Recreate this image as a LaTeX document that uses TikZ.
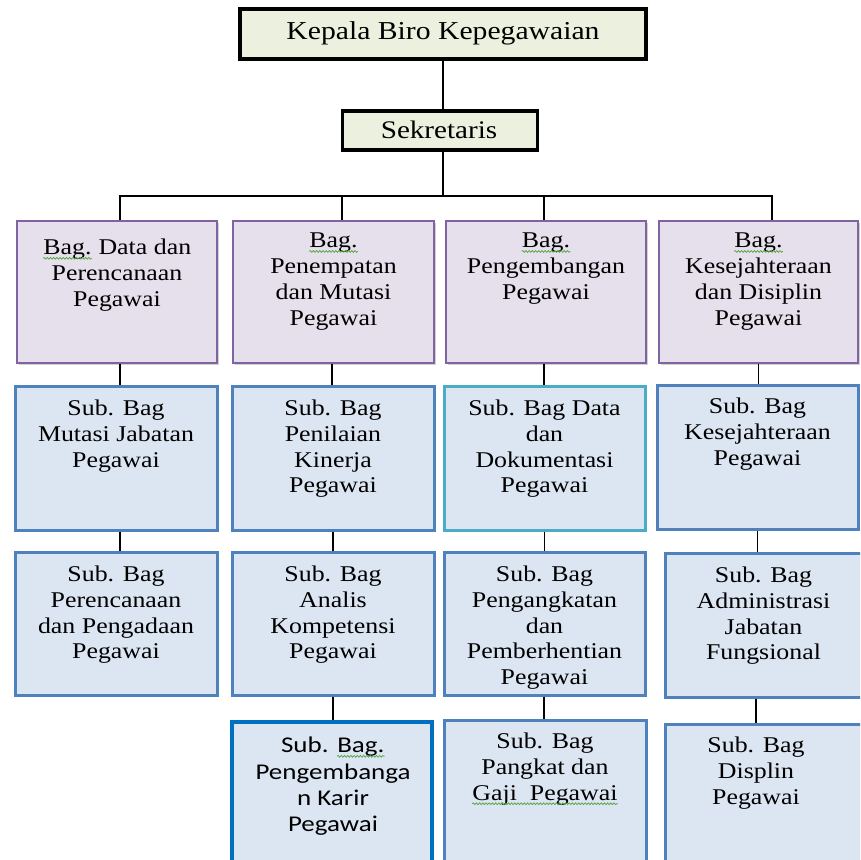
\documentclass[tikz,border=0pt]{standalone}
\usepackage{fontspec}
\setmainfont{Liberation Serif}[FakeStretch=1.15]
\newfontfamily\calib{Carlito}[FakeStretch=1.2]
\usetikzlibrary{shadows,decorations.pathmorphing}
\definecolor{topfill}{HTML}{EBF1DE}
\definecolor{bagfill}{HTML}{E5E0EC}
\definecolor{bagline}{HTML}{8064A2}
\definecolor{subfill}{HTML}{DCE6F2}
\definecolor{subline}{HTML}{4F81BD}
\definecolor{tealline}{HTML}{4BACC6}
\definecolor{darkblue}{HTML}{0070C0}
\definecolor{sqgreen}{HTML}{4FA33A}
\newcommand\squig[1]{\tikz[baseline=(w.base)]{\node[inner sep=0pt, anchor=base] (w) at (0,0) {#1};
  \draw[sqgreen, line width=0.7pt, decorate, decoration={snake, amplitude=0.9pt, segment length=3.2pt}]
    ([yshift=-3.5pt]w.base west) -- ([yshift=-3.5pt]w.base east);}}
\begin{document}
\begin{tikzpicture}[x=1pt,y=-1pt,
  topbox/.style={draw=black, line width=3.2pt, fill=topfill, inner sep=0pt},
  bagbox/.style={draw=bagline, line width=2pt, fill=bagfill, inner sep=0pt,
    drop shadow={opacity=0.35, shadow xshift=1.5pt, shadow yshift=-2pt}},
  subbox/.style={draw=subline, line width=3pt, fill=subfill, inner sep=0pt,
    drop shadow={opacity=0.25, shadow xshift=1pt, shadow yshift=-1.5pt}},
  txt/.style={align=center, anchor=north, inner sep=0pt, font=\fontsize{22.5}{25.7}\selectfont},
  conn/.style={draw=black, line width=1.5pt}]
\useasboundingbox (0,0) rectangle (860,860);
\clip (0,0) rectangle (860,860);
\fill[white] (0,0) rectangle (860,860);

\coordinate (bus) at (440,196);

% top boxes
\node[topbox, minimum width=406pt, minimum height=50pt] (K) at (443,34) {};
\node[font=\fontsize{25.8}{28}\selectfont, inner sep=0pt] (tK) at (443,33) {Kepala Biro Kepegawaian};
\node[topbox, minimum width=195pt, minimum height=39pt] (S) at (440,130.5) {};
\node[font=\fontsize{25.3}{27}\selectfont, inner sep=0pt] (tS) at (439,130) {Sekretaris};

% bag row
\node[bagbox, minimum width=200pt, minimum height=142pt] (B1) at (117,292) {};
\node[bagbox, minimum width=201pt, minimum height=142pt] (B2) at (333.5,292) {};
\node[bagbox, minimum width=200pt, minimum height=142pt] (B3) at (546,292) {};
\node[bagbox, minimum width=199pt, minimum height=142pt] (B4) at (758.5,292) {};

% sub row 1
\node[subbox, minimum width=202pt, minimum height=144pt] (A1) at (116,458) {};
\node[subbox, minimum width=202pt, minimum height=144pt] (A2) at (333,458) {};
\node[subbox, draw=tealline, minimum width=201pt, minimum height=144pt] (A3) at (544.5,458) {};
\node[subbox, minimum width=201pt, minimum height=144pt] (A4) at (757.5,457) {};

% sub row 2
\node[subbox, minimum width=202pt, minimum height=143pt] (C1) at (116,623.5) {};
\node[subbox, minimum width=202pt, minimum height=143pt] (C2) at (333,623.5) {};
\node[subbox, minimum width=201pt, minimum height=143pt] (C3) at (544.5,623.5) {};
\node[subbox, minimum width=197pt, minimum height=144pt] (C4) at (763.5,625) {};

% sub row 3
\node[subbox, draw=darkblue, line width=3.4pt, minimum width=200pt, minimum height=160pt] (D2) at (332,802) {};
\node[subbox, minimum width=202pt, minimum height=160pt] (D3) at (545,800) {};
\node[subbox, minimum width=197pt, minimum height=160pt] (D4) at (763.5,804) {};

% connectors
\draw[conn] (K.south) -- (K.south |- S.north);
\draw[conn] (S.south -| K.south) -- (K.south |- bus);
\draw[conn] ([xshift=3pt]B1.north) |- (K.south |- bus);
\draw[conn] ([xshift=8.5pt]B2.north) |- (K.south |- bus);
\draw[conn] ([xshift=-2pt]B3.north) |- (K.south |- bus);
\draw[conn] ([xshift=13.5pt]B4.north) |- (K.south |- bus);
\draw[conn] ([xshift=3pt]B1.south) -- ([xshift=3pt]B1.south |- A1.north);
\draw[conn] ([xshift=-1.5pt]B2.south) -- ([xshift=-1.5pt]B2.south |- A2.north);
\draw[conn] ([xshift=-2pt]B3.south) -- ([xshift=-2pt]B3.south |- A3.north);
\draw[conn] (B4.south) -- (B4.south |- A4.north);
\draw[conn] ([xshift=4pt]A1.south) -- ([xshift=4pt]A1.south |- C1.north);
\draw[conn] (A2.south) -- (A2.south |- C2.north);
\draw[conn] (A3.south) -- (A3.south |- C3.north);
\draw[conn] (A4.south) -- (A4.south |- C4.north);
\draw[conn] (C2.south) -- (C2.south |- D2.north);
\draw[conn] ([xshift=-0.5pt]C3.south) -- ([xshift=-0.5pt]C3.south |- D3.north);
\draw[conn] ([xshift=-1.5pt]A4.south |- C4.south) -- ([xshift=-1.5pt]A4.south |- D4.north);

% texts bag row
\node[txt] (tB1) at (117,239) {\squig{Bag.} Data dan\\Perencanaan\\Pegawai};
\node[txt] (tB2) at (333.5,233) {\squig{Bag.}\\Penempatan\\dan Mutasi\\Pegawai};
\node[txt] (tB3) at (546,233) {\squig{Bag.}\\Pengembangan\\Pegawai};
\node[txt] (tB4) at (758.5,233) {\squig{Bag.}\\Kesejahteraan\\dan Disiplin\\Pegawai};

% texts sub row 1
\node[txt] (tA1) at (116,400) {Sub. Bag\\Mutasi Jabatan\\Pegawai};
\node[txt] (tA2) at (333,400) {Sub. Bag\\Penilaian\\Kinerja\\Pegawai};
\node[txt] (tA3) at (544.5,400) {Sub. Bag Data\\dan\\Dokumentasi\\Pegawai};
\node[txt] (tA4) at (757.5,398) {Sub. Bag\\Kesejahteraan\\Pegawai};

% texts sub row 2
\node[txt] (tC1) at (116,566) {Sub. Bag\\Perencanaan\\dan Pengadaan\\Pegawai};
\node[txt] (tC2) at (333,566) {Sub. Bag\\Analis\\Kompetensi\\Pegawai};
\node[txt] (tC3) at (544.5,566) {Sub. Bag\\Pengangkatan\\dan\\Pemberhentian\\Pegawai};
\node[txt] (tC4) at (763.5,567) {Sub. Bag\\Administrasi\\Jabatan\\Fungsional};

% texts sub row 3
\node[txt, font=\calib\fontsize{22.5}{26.3}\selectfont] (tD2) at (333,737) {Sub. \squig{Bag.}\\Pengembanga\\n Karir\\Pegawai};
\node[txt] (tD3) at (545,733) {Sub. Bag\\Pangkat dan\\\squig{Gaji~~Pegawai}};
\node[txt] (tD4) at (756,737) {Sub. Bag\\Displin\\Pegawai};
\end{tikzpicture}
\end{document}
